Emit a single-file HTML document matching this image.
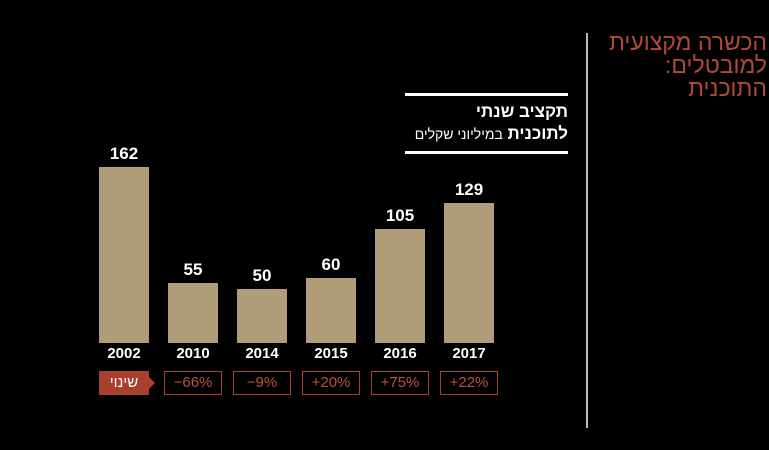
<!DOCTYPE html>
<html><head><meta charset="utf-8"><style>
body{margin:0;width:769px;height:450px;background:#000;overflow:hidden;position:relative;font-family:"Liberation Sans","Noto Sans CJK SC",sans-serif}
.a{position:absolute}
.bar{position:absolute;background:#b09c78;width:50px;bottom:107px}
.v{position:absolute;color:#fff;font-size:17px;font-weight:bold;width:50px;text-align:center}
.y{position:absolute;color:#fff;font-size:15px;font-weight:bold;width:60px;text-align:center;top:345px}
.b{position:absolute;top:371px;height:22px;width:56px;border:1px solid #a8402f;color:#c0503c;font-size:15px;text-align:center;line-height:22px}
</style></head><body>
<div class="a" style="left:586px;top:33px;width:2px;height:395px;background:#bbb"></div>
<div class="a" style="right:2px;top:31px;color:#b14a37;font-size:23px;line-height:23px;text-align:right;direction:rtl;width:180px">הכשרה מקצועית<br>למובטלים:<br>התוכנית</div>
<div class="a" style="left:405px;top:93px;width:163px;height:3px;background:#fff"></div>
<div class="a" style="left:405px;top:151px;width:163px;height:3px;background:#fff"></div>
<div class="a" style="left:400px;top:101px;width:168px;text-align:right;direction:rtl;color:#fff;font-size:17px;font-weight:bold;line-height:22px">תקציב שנתי<br>לתוכנית <span style="font-weight:normal;font-size:14px">במיליוני שקלים</span></div>
<div class="bar" style="left:99px;top:167px"></div>
<div class="bar" style="left:168px;top:283px"></div>
<div class="bar" style="left:237px;top:289px"></div>
<div class="bar" style="left:306px;top:278px"></div>
<div class="bar" style="left:375px;top:229px"></div>
<div class="bar" style="left:444px;top:203px"></div>
<div class="v" style="left:99px;top:144px">162</div>
<div class="v" style="left:168px;top:260px">55</div>
<div class="v" style="left:237px;top:266px">50</div>
<div class="v" style="left:306px;top:255px">60</div>
<div class="v" style="left:375px;top:206px">105</div>
<div class="v" style="left:444px;top:180px">129</div>
<div class="y" style="left:94px">2002</div>
<div class="y" style="left:163px">2010</div>
<div class="y" style="left:232px">2014</div>
<div class="y" style="left:301px">2015</div>
<div class="y" style="left:370px">2016</div>
<div class="y" style="left:439px">2017</div>
<div class="a" style="left:99px;top:371px;width:50px;height:24px;background:#a8402f;color:#fff;font-size:15px;line-height:24px;text-align:center">שינוי</div>
<div class="a" style="left:149px;top:377px;width:0;height:0;border-top:6px solid transparent;border-bottom:6px solid transparent;border-left:6px solid #a8402f"></div>
<div class="b" style="left:164px">−66%</div>
<div class="b" style="left:233px">−9%</div>
<div class="b" style="left:302px">+20%</div>
<div class="b" style="left:371px">+75%</div>
<div class="b" style="left:440px">+22%</div>
</body></html>
